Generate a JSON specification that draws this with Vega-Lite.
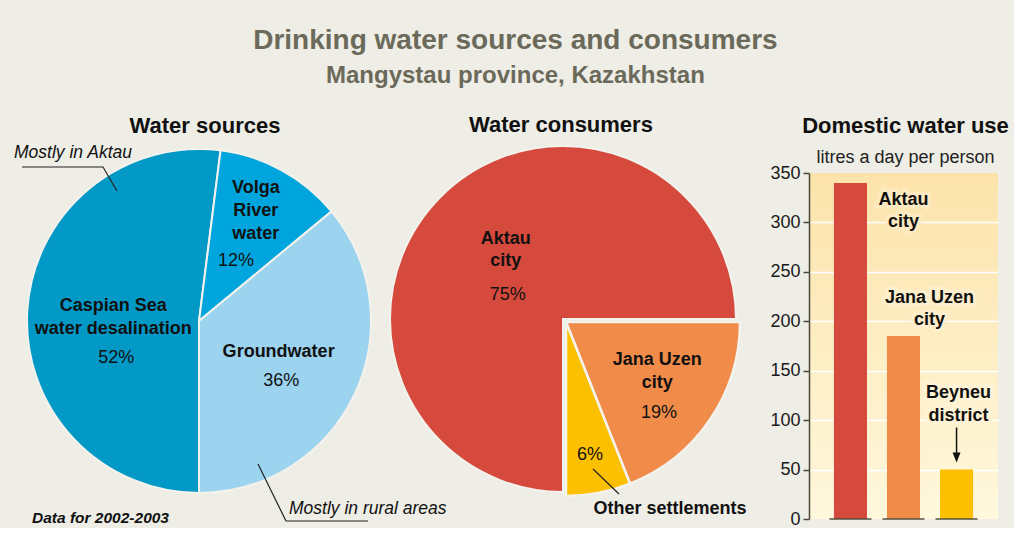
{
  "$schema": "https://vega.github.io/schema/vega-lite/v6.json",
  "background": "#eeede6",
  "padding": {"left": 14, "top": 27, "right": 5, "bottom": 0},
  "autosize": {"type": "pad"},
  "bounds": "flush",
  "spacing": 0,
  "resolve": {"scale": {"color": "independent", "theta": "independent"}},
  "config": {
    "font": "Liberation Sans",
    "view": {"stroke": null},
    "title": {"font": "Liberation Sans", "subtitleFont": "Liberation Sans"},
    "text": {"font": "Liberation Sans", "lineBreak": "\n"}
  },
  "title": {
    "text": "Drinking water sources and consumers",
    "subtitle": "Mangystau province, Kazakhstan",
    "fontSize": 28,
    "fontWeight": "bold",
    "color": "#6b6a5a",
    "subtitleFontSize": 24,
    "subtitleFontWeight": "bold",
    "subtitleColor": "#6b6a5a",
    "anchor": "middle",
    "frame": "bounds",
    "offset": 26,
    "subtitlePadding": 9,
    "dx": 4
  },
  "datasets": {
    "sources": [
      {"source": "Caspian Sea water desalination", "label": "Caspian Sea\nwater desalination", "share": 0.52, "rank": 1},
      {"source": "Volga River water", "label": "Volga\nRiver\nwater", "share": 0.12, "rank": 2},
      {"source": "Groundwater", "label": "Groundwater", "share": 0.36, "rank": 3}
    ],
    "consumers": [
      {"consumer": "Aktau city", "label": "Aktau\ncity", "share": 0.75, "rank": 1},
      {"consumer": "Jana Uzen city", "label": "Jana Uzen\ncity", "share": 0.19, "rank": 2},
      {"consumer": "Other settlements", "label": "Other settlements", "share": 0.06, "rank": 3}
    ],
    "use": [
      {"place": "Aktau city", "label": "Aktau\ncity", "litres": 340},
      {"place": "Jana Uzen city", "label": "Jana Uzen\ncity", "litres": 185},
      {"place": "Beyneu district", "label": "Beyneu\ndistrict", "litres": 50}
    ],
    "leadersSources": [
      {"note": "aktau", "step": 1, "x": -177, "y": -154},
      {"note": "aktau", "step": 2, "x": -96, "y": -154},
      {"note": "aktau", "step": 3, "x": -82, "y": -130},
      {"note": "rural", "step": 1, "x": 169, "y": 200},
      {"note": "rural", "step": 2, "x": 87, "y": 200},
      {"note": "rural", "step": 3, "x": 59, "y": 143}
    ],
    "calloutsSources": [
      {"text": "Mostly in Aktau", "x": -185, "y": -163},
      {"text": "Mostly in rural areas", "x": 90, "y": 193}
    ],
    "sourceNote": [
      {"text": "Data for 2002-2003", "x": -167, "y": 202}
    ],
    "leadersConsumers": [
      {"note": "other", "step": 1, "x": 30, "y": 150},
      {"note": "other", "step": 2, "x": 56, "y": 175}
    ],
    "calloutsConsumers": [
      {"text": "Other settlements", "x": 107, "y": 195}
    ]
  },
  "hconcat": [
    {
      "width": 236,
      "height": 296,
      "title": {"text": "Water sources", "fontSize": 22, "fontWeight": "bold", "color": "#111111", "frame": "group", "anchor": "middle", "dx": 6, "offset": 6},
      "layer": [
        {
          "data": {"name": "sources"},
          "encoding": {
            "theta": {"field": "share", "type": "quantitative", "stack": true, "scale": {"range": [3.141593, 9.424778]}},
            "order": {"field": "rank", "type": "quantitative"},
            "color": {"field": "source", "type": "nominal", "scale": {"domain": ["Caspian Sea water desalination", "Volga River water", "Groundwater"], "range": ["#0399c6", "#00a5dd", "#9cd3ef"]}, "legend": null}
          },
          "layer": [
            {"mark": {"type": "arc", "radius": 172, "stroke": "#f3f2ec", "strokeWidth": 2}},
            {"mark": {"type": "text", "radius": 86, "dy": -5, "fontSize": 18, "fontWeight": "bold", "lineHeight": 23, "baseline": "alphabetic", "align": "center"},
             "encoding": {"color": {"value": "#111111"}, "text": {"condition": {"test": "datum.rank === 1", "field": "label"}, "value": ""}}},
            {"mark": {"type": "text", "radius": 83, "dy": 47, "fontSize": 18, "baseline": "alphabetic", "align": "center"},
             "encoding": {"color": {"value": "#111111"}, "text": {"condition": {"test": "datum.rank === 1", "field": "share", "type": "quantitative", "format": ".0%"}, "value": ""}}},
            {"mark": {"type": "text", "radius": 118, "dy": -25, "fontSize": 18, "fontWeight": "bold", "lineHeight": 23, "baseline": "alphabetic", "align": "center"},
             "encoding": {"color": {"value": "#111111"}, "text": {"condition": {"test": "datum.rank === 2", "field": "label"}, "value": ""}}},
            {"mark": {"type": "text", "radius": 77, "dy": 12, "fontSize": 18, "baseline": "alphabetic", "align": "center"},
             "encoding": {"color": {"value": "#111111"}, "text": {"condition": {"test": "datum.rank === 2", "field": "share", "type": "quantitative", "format": ".0%"}, "value": ""}}},
            {"mark": {"type": "text", "radius": 88, "dy": -1, "fontSize": 18, "fontWeight": "bold", "lineHeight": 23, "baseline": "alphabetic", "align": "center"},
             "encoding": {"color": {"value": "#111111"}, "text": {"condition": {"test": "datum.rank === 3", "field": "label"}, "value": ""}}},
            {"mark": {"type": "text", "radius": 91, "dy": 26, "fontSize": 18, "baseline": "alphabetic", "align": "center"},
             "encoding": {"color": {"value": "#111111"}, "text": {"condition": {"test": "datum.rank === 3", "field": "share", "type": "quantitative", "format": ".0%"}, "value": ""}}}
          ]
        },
        {
          "data": {"name": "leadersSources"},
          "mark": {"type": "line", "color": "#222222", "strokeWidth": 1.2},
          "encoding": {
            "x": {"field": "x", "type": "quantitative", "scale": {"domain": [-118, 118], "nice": false, "zero": false}, "axis": null},
            "y": {"field": "y", "type": "quantitative", "scale": {"domain": [-148, 148], "nice": false, "zero": false, "reverse": true}, "axis": null},
            "detail": {"field": "note"},
            "order": {"field": "step", "type": "quantitative"}
          }
        },
        {
          "data": {"name": "calloutsSources"},
          "mark": {"type": "text", "fontSize": 17.5, "fontStyle": "italic", "align": "left", "baseline": "alphabetic", "color": "#111111"},
          "encoding": {
            "x": {"field": "x", "type": "quantitative"},
            "y": {"field": "y", "type": "quantitative"},
            "text": {"field": "text"}
          }
        },
        {
          "data": {"name": "sourceNote"},
          "mark": {"type": "text", "fontSize": 15.5, "fontStyle": "italic", "fontWeight": "bold", "align": "left", "baseline": "alphabetic", "color": "#111111"},
          "encoding": {
            "x": {"field": "x", "type": "quantitative"},
            "y": {"field": "y", "type": "quantitative"},
            "text": {"field": "text"}
          }
        }
      ]
    },
    {
      "width": 492,
      "height": 292,
      "title": {"text": "Water consumers", "fontSize": 22, "fontWeight": "bold", "color": "#111111", "frame": "group", "anchor": "middle", "dx": -2, "offset": 5},
      "layer": [
        {
          "data": {"name": "consumers"},
          "encoding": {
            "theta": {"field": "share", "type": "quantitative", "stack": true, "scale": {"range": [3.141593, 9.424778]}},
            "order": {"field": "rank", "type": "quantitative"},
            "color": {"field": "consumer", "type": "nominal", "scale": {"domain": ["Aktau city", "Jana Uzen city", "Other settlements"], "range": ["#d6493d", "#f08b4a", "#fdc000"]}, "legend": null}
          },
          "layer": [
            {"mark": {"type": "arc", "radius": 173, "stroke": "#f3f2ec", "strokeWidth": 2},
             "encoding": {"opacity": {"condition": {"test": "datum.rank === 1", "value": 1}, "value": 0}}},
            {"mark": {"type": "arc", "radius": 174, "stroke": "#f3f2ec", "strokeWidth": 2.5, "xOffset": 3, "yOffset": 3},
             "encoding": {"opacity": {"condition": {"test": "datum.rank === 1", "value": 0}, "value": 1}}},
            {"mark": {"type": "text", "radius": 81, "dy": -18, "fontSize": 18, "fontWeight": "bold", "lineHeight": 22, "baseline": "alphabetic", "align": "center"},
             "encoding": {"color": {"value": "#111111"}, "text": {"condition": {"test": "datum.rank === 1", "field": "label"}, "value": ""}}},
            {"mark": {"type": "text", "radius": 78, "dy": 36, "fontSize": 18, "baseline": "alphabetic", "align": "center"},
             "encoding": {"color": {"value": "#111111"}, "text": {"condition": {"test": "datum.rank === 1", "field": "share", "type": "quantitative", "format": ".0%"}, "value": ""}}},
            {"mark": {"type": "text", "radius": 114, "dy": -18, "fontSize": 18, "fontWeight": "bold", "lineHeight": 23, "baseline": "alphabetic", "align": "center"},
             "encoding": {"color": {"value": "#111111"}, "text": {"condition": {"test": "datum.rank === 2", "field": "label"}, "value": ""}}},
            {"mark": {"type": "text", "radius": 116, "dy": 34, "fontSize": 18, "baseline": "alphabetic", "align": "center"},
             "encoding": {"color": {"value": "#111111"}, "text": {"condition": {"test": "datum.rank === 2", "field": "share", "type": "quantitative", "format": ".0%"}, "value": ""}}},
            {"mark": {"type": "text", "radius": 144, "dy": 0, "fontSize": 18, "baseline": "alphabetic", "align": "center"},
             "encoding": {"color": {"value": "#111111"}, "text": {"condition": {"test": "datum.rank === 3", "field": "share", "type": "quantitative", "format": ".0%"}, "value": ""}}}
          ]
        },
        {
          "data": {"name": "leadersConsumers"},
          "mark": {"type": "line", "color": "#222222", "strokeWidth": 1.2},
          "encoding": {
            "x": {"field": "x", "type": "quantitative", "scale": {"domain": [-246, 246], "nice": false, "zero": false}, "axis": null},
            "y": {"field": "y", "type": "quantitative", "scale": {"domain": [-146, 146], "nice": false, "zero": false, "reverse": true}, "axis": null},
            "detail": {"field": "note"},
            "order": {"field": "step", "type": "quantitative"}
          }
        },
        {
          "data": {"name": "calloutsConsumers"},
          "mark": {"type": "text", "fontSize": 18, "fontWeight": "bold", "align": "center", "baseline": "alphabetic", "color": "#111111"},
          "encoding": {
            "x": {"field": "x", "type": "quantitative"},
            "y": {"field": "y", "type": "quantitative"},
            "text": {"field": "text"}
          }
        }
      ]
    },
    {
      "width": 189,
      "height": 346,
      "view": {"fill": {"gradient": "linear", "x1": 0, "y1": 0, "x2": 0, "y2": 1, "stops": [{"offset": 0, "color": "#fce3aa"}, {"offset": 1, "color": "#fff8dd"}]}},
      "title": {"text": "Domestic water use", "subtitle": "litres a day per person", "fontSize": 22, "fontWeight": "bold", "color": "#111111", "subtitleFontSize": 18, "subtitleColor": "#222222", "subtitleFontWeight": "normal", "frame": "group", "anchor": "middle", "dx": 2, "offset": -4, "subtitlePadding": 11},
      "data": {"name": "use"},
      "encoding": {
        "x": {"field": "place", "type": "nominal", "sort": null, "scale": {"paddingInner": 0.377, "paddingOuter": 0.47}, "axis": null},
        "y": {"field": "litres", "type": "quantitative", "scale": {"domain": [0, 350], "nice": false},
              "axis": {"values": [0, 50, 100, 150, 200, 250, 300, 350], "title": null, "grid": true, "gridColor": "#ffffff", "gridWidth": 1.5,
                       "gridOpacity": {"condition": {"test": "datum.value === 0 || datum.value === 350", "value": 0}, "value": 1},
                       "domainColor": "#4b4838", "domainWidth": 1.5, "tickColor": "#4b4838", "tickWidth": 1.5, "tickSize": 6,
                       "labelFontSize": 18, "labelColor": "#1a1a1a", "labelPadding": 3, "labelFont": "Liberation Sans"}}
      },
      "layer": [
        {"mark": {"type": "bar"},
         "encoding": {"color": {"field": "place", "type": "nominal", "scale": {"domain": ["Aktau city", "Jana Uzen city", "Beyneu district"], "range": ["#d6493d", "#f08b4a", "#fdc000"]}, "legend": null}}},
        {"mark": {"type": "tick", "orient": "horizontal", "size": 42, "thickness": 2, "color": "#4b4838"},
         "encoding": {"y": {"datum": 0}}},
        {"transform": [{"filter": "datum.place === 'Aktau city'"}],
         "mark": {"type": "text", "dx": 53, "dy": 22, "fontSize": 18, "fontWeight": "bold", "lineHeight": 22, "baseline": "alphabetic", "align": "center", "stroke": "#fdeac0", "strokeWidth": 7, "color": "#fdeac0"},
         "encoding": {"text": {"field": "label"}}},
        {"transform": [{"filter": "datum.place === 'Aktau city'"}],
         "mark": {"type": "text", "dx": 53, "dy": 22, "fontSize": 18, "fontWeight": "bold", "lineHeight": 22, "baseline": "alphabetic", "align": "center", "color": "#111111"},
         "encoding": {"text": {"field": "label"}}},
        {"transform": [{"filter": "datum.place === 'Jana Uzen city'"}],
         "mark": {"type": "text", "dx": 26, "dy": -33, "fontSize": 18, "fontWeight": "bold", "lineHeight": 22, "baseline": "alphabetic", "align": "center", "stroke": "#feeecb", "strokeWidth": 7, "color": "#feeecb"},
         "encoding": {"text": {"field": "label"}}},
        {"transform": [{"filter": "datum.place === 'Jana Uzen city'"}],
         "mark": {"type": "text", "dx": 26, "dy": -33, "fontSize": 18, "fontWeight": "bold", "lineHeight": 22, "baseline": "alphabetic", "align": "center", "color": "#111111"},
         "encoding": {"text": {"field": "label"}}},
        {"transform": [{"filter": "datum.place === 'Beyneu district'"}],
         "mark": {"type": "text", "dx": 2, "dy": -72, "fontSize": 18, "fontWeight": "bold", "lineHeight": 23, "baseline": "alphabetic", "align": "center", "stroke": "#fff3d5", "strokeWidth": 7, "color": "#fff3d5"},
         "encoding": {"text": {"field": "label"}}},
        {"transform": [{"filter": "datum.place === 'Beyneu district'"}],
         "mark": {"type": "text", "dx": 2, "dy": -72, "fontSize": 18, "fontWeight": "bold", "lineHeight": 23, "baseline": "alphabetic", "align": "center", "color": "#111111"},
         "encoding": {"text": {"field": "label"}}},
        {"transform": [{"filter": "datum.place === 'Beyneu district'"}],
         "mark": {"type": "rule", "color": "#111111", "strokeWidth": 1.5, "yOffset": -42, "y2Offset": -16},
         "encoding": {"y2": {"field": "litres"}}},
        {"transform": [{"filter": "datum.place === 'Beyneu district'"}],
         "mark": {"type": "point", "shape": "M-0.8,-1L0.8,-1L0,1Z", "size": 100, "filled": true, "opacity": 1, "color": "#111111", "yOffset": -12},
         "encoding": {}}
      ]
    }
  ]
}
